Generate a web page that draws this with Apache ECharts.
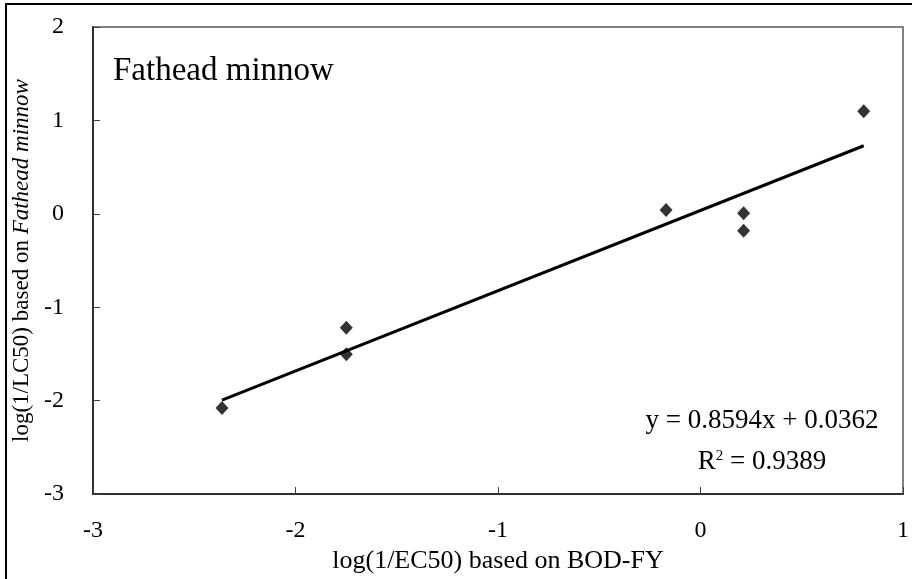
<!DOCTYPE html>
<html>
<head>
<meta charset="utf-8">
<script src="https://cdn.jsdelivr.net/npm/echarts@6/dist/echarts.min.js"></script>
<style>
  html, body { margin: 0; padding: 0; background: #fff; }
  #chart { width: 912px; height: 579px; }
</style>
</head>
<body>
<div id="chart"></div>
<script>
// Toxicity data: BOD-FY based log(1/EC50) vs fathead minnow log(1/LC50)
const xValues = [-2.363, -1.749, -1.749, -0.170, 0.213, 0.213, 0.806];
const yValues = [-2.079, -1.219, -1.504, 0.040, 0.005, -0.180, 1.098];

// Linear fit reported on the chart
const slope = 0.8594;
const intercept = 0.0362;
const rSquared = 0.9389;

const xTicks = [-3, -2, -1, 0, 1];
const yTicks = [-3, -2, -1, 0, 1, 2];

const FONT = '"Liberation Serif", "Times New Roman", serif';

const points = xValues.map((x, i) => [x, yValues[i]]);
const xMin = Math.min(...xValues);
const xMax = Math.max(...xValues);
const fitLine = [xMin, xMax].map(x => [x, slope * x + intercept]);

const chart = echarts.init(document.getElementById('chart'), null, { renderer: 'canvas' });

chart.setOption({
  backgroundColor: '#ffffff',
  animation: false,
  textStyle: { fontFamily: FONT, color: '#000' },
  grid: {
    left: 93, top: 27, right: 9, bottom: 82,
    show: true, borderColor: '#808080', borderWidth: 2, backgroundColor: 'transparent'
  },
  xAxis: {
    type: 'value',
    min: xTicks[0], max: xTicks[xTicks.length - 1], interval: 1,
    splitLine: { show: false },
    axisLine: { show: true, onZero: false, lineStyle: { color: '#303030', width: 2 } },
    axisTick: { show: true, inside: true, length: 7, lineStyle: { color: '#404040', width: 1 } },
    axisLabel: { fontFamily: FONT, fontSize: 24, color: '#000', margin: 25 },
    name: 'log(1/EC50) based on BOD-FY',
    nameLocation: 'middle',
    nameGap: 53,
    nameTextStyle: { fontFamily: FONT, fontSize: 26, color: '#000' }
  },
  yAxis: {
    type: 'value',
    min: yTicks[0], max: yTicks[yTicks.length - 1], interval: 1,
    splitLine: { show: false },
    axisLine: { show: true, onZero: false, lineStyle: { color: '#303030', width: 2 } },
    axisTick: { show: true, inside: true, length: 7, lineStyle: { color: '#404040', width: 1 } },
    axisLabel: { fontFamily: FONT, fontSize: 24, color: '#000', margin: 29 },
    name: '{n|log(1/LC50) based on }{i|Fathead minnow}',
    nameLocation: 'middle',
    nameGap: 56,
    nameRotate: 90,
    nameTextStyle: {
      fontFamily: FONT, fontSize: 23, color: '#000',
      rich: {
        n: { fontFamily: FONT, fontSize: 23, color: '#000' },
        i: { fontFamily: FONT, fontSize: 23, color: '#000', fontStyle: 'italic' }
      }
    }
  },
  series: [
    {
      type: 'line',
      data: fitLine,
      symbol: 'none',
      lineStyle: { color: '#000', width: 3 },
      z: 2
    },
    {
      type: 'scatter',
      data: points,
      symbol: 'diamond',
      symbolSize: [13, 14],
      itemStyle: { color: '#000' },
      z: 3
    }
  ],
  graphic: [
    {
      type: 'rect',
      shape: { x: 6, y: 4, width: 960, height: 640 },
      style: { fill: 'none', stroke: '#000', lineWidth: 2 },
      silent: true
    },
    {
      type: 'text',
      left: 113, top: 55,
      style: { text: 'Fathead minnow', font: '33px ' + FONT, fill: '#000' }
    },
    {
      type: 'text',
      x: 762, y: 421,
      style: {
        text: 'y = ' + slope.toFixed(4) + 'x + ' + intercept.toFixed(4),
        font: '27px ' + FONT, fill: '#000', align: 'center', verticalAlign: 'middle'
      }
    },
    {
      type: 'text',
      x: 762, y: 462,
      style: {
        text: '{r|R}{s|2}{r| = ' + rSquared.toFixed(4) + '}',
        align: 'center', verticalAlign: 'middle',
        rich: {
          r: { font: '27px ' + FONT, fill: '#000', verticalAlign: 'bottom' },
          s: { font: '15px ' + FONT, fill: '#000', verticalAlign: 'top' }
        }
      }
    }
  ]
});
</script>
</body>
</html>
